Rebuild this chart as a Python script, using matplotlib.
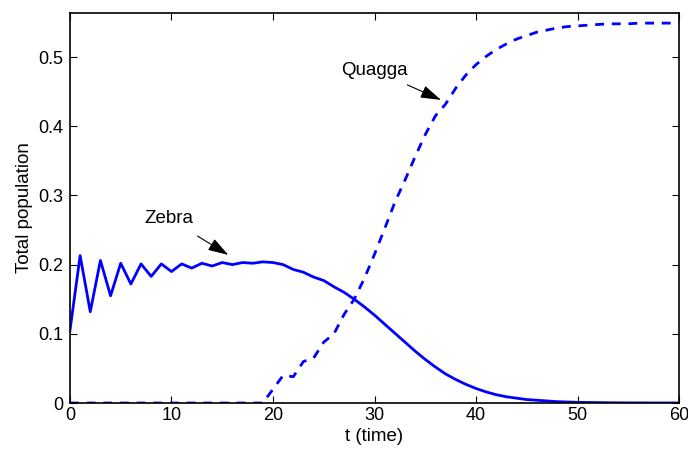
import matplotlib
matplotlib.use("Agg")
import matplotlib.pyplot as plt

plt.rcParams['font.family'] = ['Liberation Sans', 'DejaVu Sans']

# time steps 0..60
t = list(range(61))

zebra = [0.105, 0.213, 0.132, 0.206, 0.155, 0.202, 0.172, 0.201, 0.183, 0.201,
         0.190, 0.201, 0.195, 0.202, 0.198, 0.203, 0.200, 0.203, 0.202, 0.204,
         0.203, 0.200, 0.193, 0.189, 0.182, 0.177, 0.168, 0.160, 0.150, 0.139,
         0.127, 0.114, 0.101, 0.088, 0.075, 0.063, 0.052, 0.042, 0.034, 0.027,
         0.021, 0.016, 0.012, 0.009, 0.007, 0.005, 0.004, 0.003, 0.002, 0.0015,
         0.001, 0.0008, 0.0006, 0.0004, 0.0003, 0.0002, 0.0002, 0.0001, 0.0001, 0.0001,
         0.0001]

quagga = [0, 0, 0, 0, 0, 0, 0, 0, 0, 0,
          0, 0, 0, 0, 0, 0, 0, 0, 0, 0,
          0.020, 0.040, 0.038, 0.060, 0.065, 0.088, 0.100, 0.128, 0.150, 0.180,
          0.215, 0.252, 0.290, 0.322, 0.356, 0.388, 0.415, 0.432, 0.455, 0.474,
          0.489, 0.501, 0.511, 0.519, 0.526, 0.531, 0.536, 0.539, 0.542, 0.544,
          0.545, 0.546, 0.547, 0.548, 0.548, 0.548, 0.549, 0.549, 0.549, 0.549,
          0.549]

fig = plt.figure(figsize=(6.88, 4.49), dpi=100)
ax = fig.add_axes([0.1017, 0.1024, 0.8853, 0.8686])

ax.plot(t, zebra, color='#0000ff', lw=2.0)
ax.plot(t, quagga, color='#0000ff', lw=2.0, linestyle=(0, (3.2, 2.8)))

ax.set_xlim(0, 60)
ax.set_ylim(0, 0.5636)
ax.set_xticks(range(0, 61, 10))
ax.set_yticks([0, 0.1, 0.2, 0.3, 0.4, 0.5])
ax.set_yticklabels(['0', '0.1', '0.2', '0.3', '0.4', '0.5'])
ax.tick_params(direction='in', top=True, right=True, labelsize=13, length=5,
               width=0.8)
ax.tick_params(axis='x', pad=3)
ax.tick_params(axis='y', pad=4.5)
for s in ax.spines.values():
    s.set_linewidth(1.2)

ax.set_xlabel('t (time)', fontsize=13.5, labelpad=3)
ax.set_ylabel('Total population', fontsize=13.5, labelpad=4)

arrow = dict(arrowstyle='-|>,head_length=0.7,head_width=0.22', color='black',
             lw=0.8, mutation_scale=18, shrinkB=0)
ax.annotate('Zebra', xy=(15.6, 0.214), xytext=(9.7, 0.267),
            ha='center', va='center', fontsize=13.5,
            arrowprops=dict(arrow, shrinkA=9))
ax.annotate('Quagga', xy=(36.55, 0.438), xytext=(30.0, 0.481),
            ha='center', va='center', fontsize=13.5,
            arrowprops=dict(arrow, shrinkA=6))

fig.savefig('out.png', dpi=100)
